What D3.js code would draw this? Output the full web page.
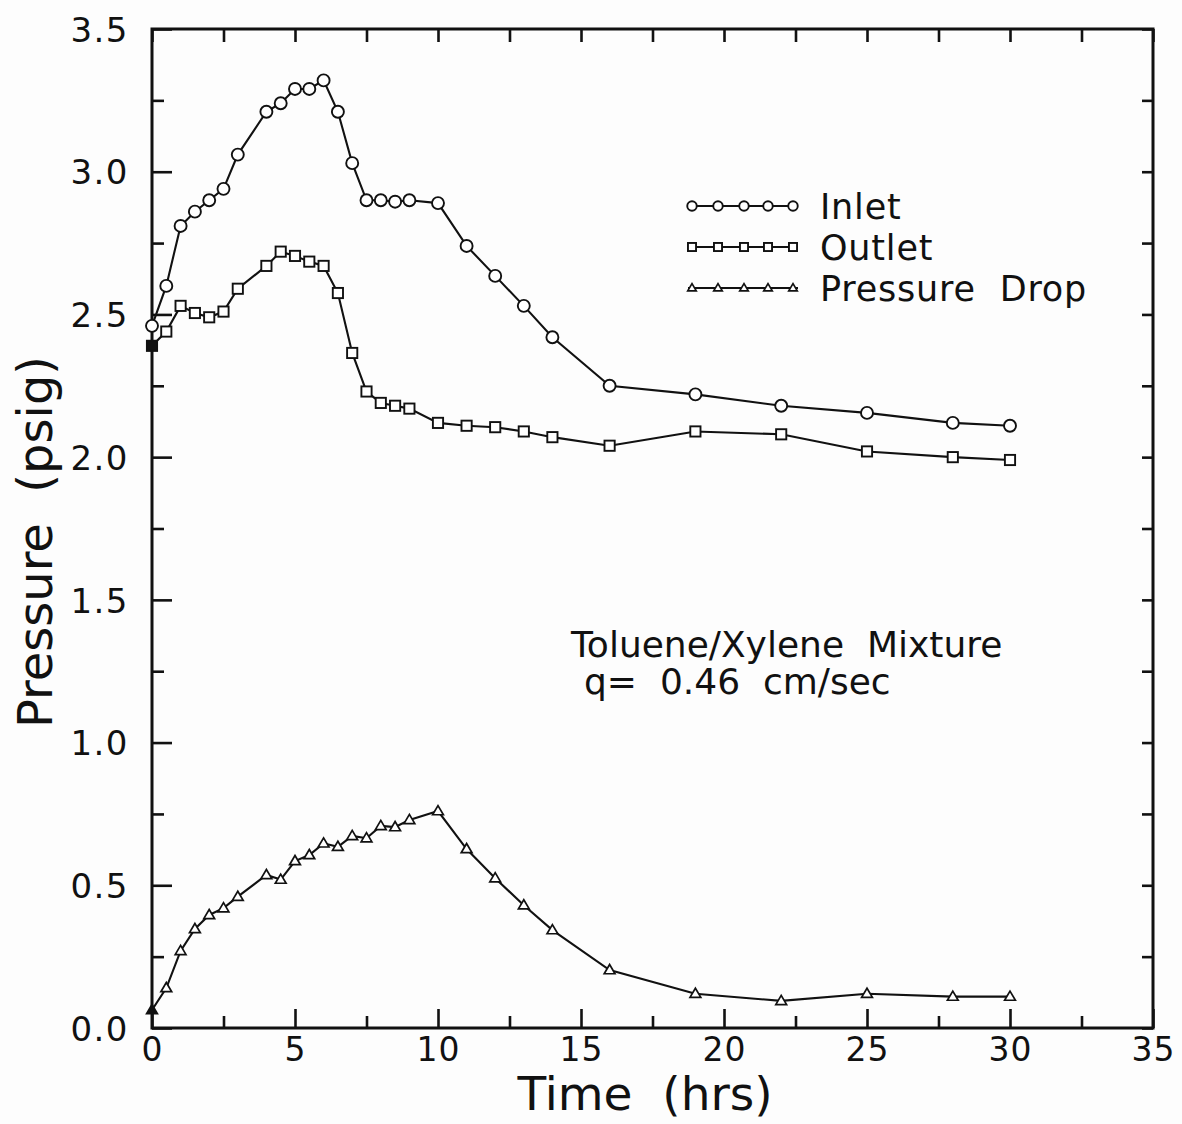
<!DOCTYPE html>
<html>
<head>
<meta charset="utf-8">
<script src="https://cdn.jsdelivr.net/npm/d3@7"></script>
<style>
  html, body { margin: 0; padding: 0; background: #ffffff; }
  svg { display: block; }
  text { font-family: "DejaVu Sans", sans-serif; fill: #111; }
</style>
</head>
<body>
<svg id="chart" width="1182" height="1124"></svg>
<script>
// ---- data ----
const times = [0,0.5,1,1.5,2,2.5,3,4,4.5,5,5.5,6,6.5,7,7.5,8,8.5,9,10,11,12,13,14,16,19,22,25,28,30];
const inlet = [2.46,2.60,2.81,2.86,2.90,2.94,3.06,3.21,3.24,3.29,3.29,3.32,3.21,3.03,2.90,2.90,2.895,2.90,2.89,2.74,2.635,2.53,2.42,2.25,2.22,2.18,2.155,2.12,2.11];
const outlet = [2.39,2.44,2.53,2.505,2.49,2.51,2.59,2.67,2.72,2.705,2.685,2.67,2.575,2.365,2.23,2.19,2.18,2.17,2.12,2.11,2.105,2.09,2.07,2.04,2.09,2.08,2.02,2.00,1.99];
const pressureDrop = [0.063,0.14,0.27,0.347,0.396,0.42,0.46,0.536,0.52,0.585,0.606,0.647,0.635,0.673,0.665,0.708,0.704,0.729,0.76,0.627,0.525,0.43,0.343,0.203,0.12,0.095,0.12,0.11,0.11];
const seriesNames = ["Inlet", "Outlet", "Pressure\u00A0\u00A0Drop"];
const xMajorTicks = [0,5,10,15,20,25,30,35];
const xMinorTicks = [2.5,7.5,12.5,17.5,22.5,27.5,32.5];
const yMajorTicks = [0,0.5,1.0,1.5,2.0,2.5,3.0,3.5];
const yMinorTicks = [0.25,0.75,1.25,1.75,2.25,2.75,3.25];
const xTitle = "Time\u00A0\u00A0(hrs)";
const yTitle = "Pressure\u00A0\u00A0(psig)";
const noteLines = ["Toluene/Xylene\u00A0\u00A0Mixture", "q=\u00A0\u00A00.46\u00A0\u00A0cm/sec"];

// ---- layout ----
const L = 152, R = 1153, T = 29, B = 1028;
const svg = d3.select("#chart");
const x = d3.scaleLinear().domain([0, 35]).range([L, R]);
const y = d3.scaleLinear().domain([0, 3.5]).range([B, T]);

svg.append("rect").attr("width", 1182).attr("height", 1124).attr("fill", "#fdfdfd");

function styleAxis(g) {
  g.select(".domain").remove();
  g.selectAll(".tick line").attr("stroke", "#111").attr("stroke-width", 2.6);
}

// bottom axis: major with labels, minor without
const gxB = svg.append("g").attr("transform", `translate(0,${B})`)
  .call(d3.axisBottom(x).tickValues(xMajorTicks).tickSize(-19).tickPadding(10).tickFormat(d3.format("d")));
styleAxis(gxB);
gxB.selectAll(".tick text").attr("font-size", 33).attr("letter-spacing", 1).attr("dy", "0.71em")
  .attr("fill", "#111").attr("font-family", "DejaVu Sans, sans-serif");
const gxBm = svg.append("g").attr("transform", `translate(0,${B})`)
  .call(d3.axisBottom(x).tickValues(xMinorTicks).tickSize(-12).tickFormat(""));
styleAxis(gxBm);

// top axis (ticks only)
const gxT = svg.append("g").attr("transform", `translate(0,${T})`)
  .call(d3.axisTop(x).tickValues(xMajorTicks.concat(xMinorTicks)).tickSize(-13).tickFormat(""));
styleAxis(gxT);

// left axis
const gyL = svg.append("g").attr("transform", `translate(${L},0)`)
  .call(d3.axisLeft(y).tickValues(yMajorTicks).tickSize(-20).tickPadding(23).tickFormat(d3.format(".1f")));
styleAxis(gyL);
gyL.selectAll(".tick text").attr("font-size", 34).attr("letter-spacing", 1.5).attr("dy", "0.36em")
  .attr("fill", "#111").attr("font-family", "DejaVu Sans, sans-serif");
const gyLm = svg.append("g").attr("transform", `translate(${L},0)`)
  .call(d3.axisLeft(y).tickValues(yMinorTicks).tickSize(-12).tickFormat(""));
styleAxis(gyLm);

// right axis (ticks only)
const gyR = svg.append("g").attr("transform", `translate(${R},0)`)
  .call(d3.axisRight(y).tickValues(yMajorTicks.concat(yMinorTicks)).tickSize(-11).tickFormat(""));
styleAxis(gyR);

// frame
svg.append("rect").attr("x", L).attr("y", T).attr("width", R - L).attr("height", B - T)
  .attr("fill", "none").attr("stroke", "#111").attr("stroke-width", 3);

// ---- series ----
const line = d3.line().x((d, i) => x(times[i])).y(d => y(d));

const series = [
  { name: seriesNames[0], values: inlet, shape: "circle", fillFirst: false },
  { name: seriesNames[1], values: outlet, shape: "square", fillFirst: true },
  { name: seriesNames[2], values: pressureDrop, shape: "triangle", fillFirst: true }
];

function drawMarker(g, shape, cx, cy, size, fill) {
  if (shape === "circle") {
    g.append("circle").attr("cx", cx).attr("cy", cy).attr("r", size / 2)
      .attr("fill", fill).attr("stroke", "#111").attr("stroke-width", 1.9);
  } else if (shape === "square") {
    const s = size * 0.85;
    g.append("rect").attr("x", cx - s / 2).attr("y", cy - s / 2).attr("width", s).attr("height", s)
      .attr("fill", fill).attr("stroke", "#111").attr("stroke-width", 1.9);
  } else {
    const s = size * 0.9, h = s * 0.85;
    g.append("path").attr("d", `M${cx},${cy - h * 0.6}L${cx + s / 2},${cy + h * 0.4}L${cx - s / 2},${cy + h * 0.4}Z`)
      .attr("fill", fill).attr("stroke", "#111").attr("stroke-width", 1.7);
  }
}

series.forEach(s => {
  svg.append("path").datum(s.values).attr("d", line)
    .attr("fill", "none").attr("stroke", "#111").attr("stroke-width", 2.1);
  const g = svg.append("g");
  s.values.forEach((v, i) => {
    drawMarker(g, s.shape, x(times[i]), y(v), 12, (i === 0 && s.fillFirst) ? "#111" : "#fff");
  });
});

// ---- legend ----
const legendY = [206, 247, 288];
const legendMarkX = [692, 718, 744, 768, 793];
series.forEach((s, k) => {
  const g = svg.append("g");
  g.append("line").attr("x1", 688).attr("x2", 798).attr("y1", legendY[k]).attr("y2", legendY[k])
    .attr("stroke", "#111").attr("stroke-width", 1.8);
  legendMarkX.forEach(mx => drawMarker(g, s.shape, mx, legendY[k], 9.5, "#fff"));
  g.append("text").attr("x", 820).attr("y", legendY[k] + 13).attr("font-size", 35)
    .attr("letter-spacing", 0.8).text(s.name);
});

// ---- annotation ----
svg.append("text").attr("x", 571).attr("y", 657).attr("font-size", 36).text(noteLines[0]);
svg.append("text").attr("x", 584).attr("y", 694).attr("font-size", 36).text(noteLines[1]);

// ---- axis titles ----
svg.append("text").attr("x", 645).attr("y", 1110).attr("text-anchor", "middle").attr("font-size", 47)
  .text(xTitle);
svg.append("text").attr("transform", "translate(52,542) rotate(-90)").attr("text-anchor", "middle")
  .attr("font-size", 48).text(yTitle);
</script>
</body>
</html>
